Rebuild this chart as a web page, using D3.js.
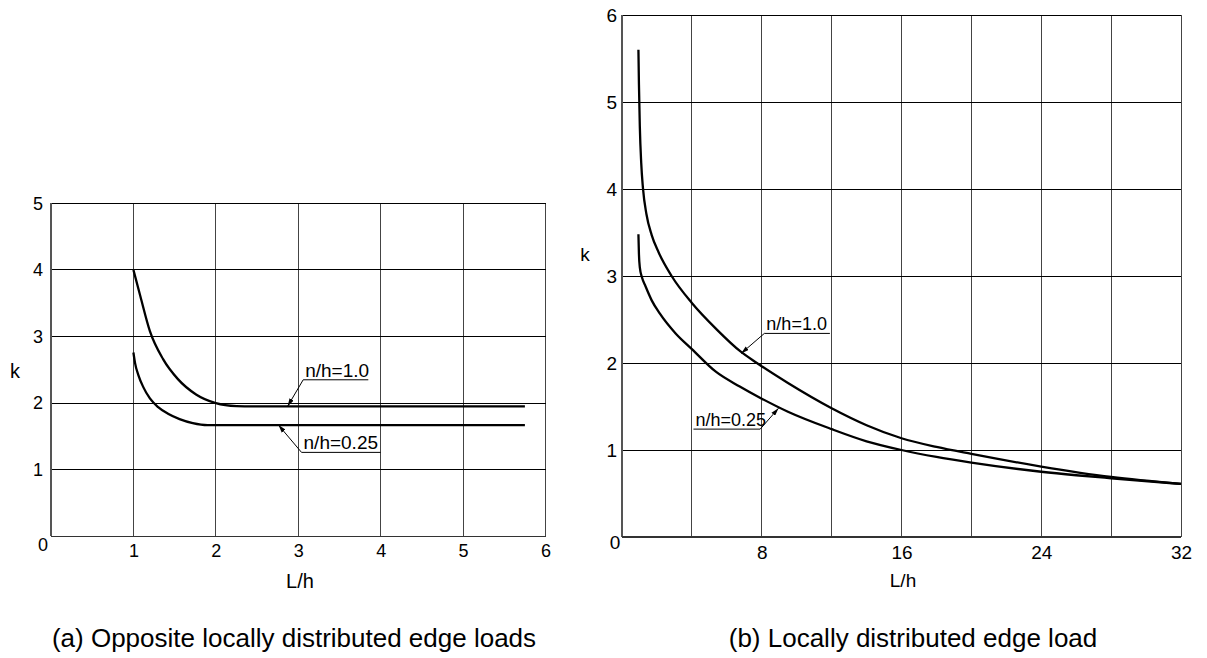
<!DOCTYPE html>
<html>
<head>
<meta charset="utf-8">
<script src="https://cdn.jsdelivr.net/npm/d3@7"></script>
<style>
  html, body { margin: 0; padding: 0; background: #fff; }
  svg { display: block; }
  text { font-family: "Liberation Sans", Arial, Helvetica, sans-serif; fill: #000; }
</style>
</head>
<body>
<svg id="chart" width="1207" height="658"></svg>
<script>
// ---------- Data ----------
// Panel (a): Opposite locally distributed edge loads
const aXTicks = [1, 2, 3, 4, 5, 6];
const aYTicks = [1, 2, 3, 4, 5];
const aSeries10 = [[1.0,4.0],[1.085,3.6],[1.2,3.08],[1.36,2.66],[1.54,2.36],[1.76,2.13],[2.0,2.0],[2.25,1.955],[2.45,1.95],[5.75,1.95]];
const aSeries025 = [[1.0,2.76],[1.02,2.6],[1.06,2.42],[1.12,2.24],[1.2,2.07],[1.3,1.94],[1.42,1.84],[1.56,1.76],[1.72,1.70],[1.9,1.67],[5.75,1.67]];
// Panel (b): Locally distributed edge load
const bXTicks = [8, 16, 24, 32];
const bXGrid = [4, 8, 12, 16, 20, 24, 28, 32];
const bYTicks = [1, 2, 3, 4, 5, 6];
const bSeries10 = [[0.94,5.6],[0.97,5.2],[1.02,4.72],[1.1,4.3],[1.2,4.01],[1.4,3.71],[1.7,3.47],[2.1,3.27],[2.84,3.0],[4.0,2.69],[5.4,2.39],[6.8,2.13],[7.72,2.0],[9.5,1.77],[12,1.48],[14,1.285],[16,1.135],[18,1.035],[20,0.955],[24,0.81],[28,0.69],[32,0.61]];
const bSeries025 = [[0.94,3.48],[0.97,3.25],[1.02,3.1],[1.15,2.98],[1.35,2.88],[1.7,2.72],[2.16,2.57],[3.07,2.34],[4.0,2.16],[5.37,1.9],[6.74,1.73],[8,1.59],[9.5,1.44],[12,1.24],[14,1.1],[16,1.0],[18,0.92],[20,0.855],[24,0.75],[26,0.71],[28,0.675],[32,0.61]];
// Annotations: label, tip [x,y], elbow [x,y], other end of underline x
const aNotes = [
  {label: "n/h=1.0", tip: [2.87,1.95], elbow: [3.06,2.35], end: 3.85},
  {label: "n/h=0.25", tip: [2.76,1.67], elbow: [3.04,1.26], end: 4.0}
];
const bNotes = [
  {label: "n/h=1.0", tip: [6.82,2.11], elbow: [8.15,2.34], end: 11.9},
  {label: "n/h=0.25", tip: [8.96,1.48], elbow: [7.91,1.24], end: 4.09}
];
const captions = ["(a) Opposite locally distributed edge loads", "(b) Locally distributed edge load"];

// ---------- Drawing ----------
const svg = d3.select("#chart");
const defs = svg.append("defs");
defs.append("marker").attr("id","arr").attr("viewBox","0 0 10 6")
  .attr("refX",10).attr("refY",3).attr("markerWidth",8).attr("markerHeight",5)
  .attr("markerUnits","userSpaceOnUse")
  .attr("orient","auto")
  .append("path").attr("d","M0,0 L10,3 L0,6 Z").attr("fill","#000");

const CAP_FS = 26;

function panel(cfg) {
  const g = svg.append("g");
  const x = d3.scaleLinear().domain(cfg.xd).range(cfg.xr);
  const y = d3.scaleLinear().domain(cfg.yd).range(cfg.yr);
  // vertical grid
  g.selectAll(".vg").data(cfg.xGrid).join("line")
    .attr("x1", d => x(d)).attr("x2", d => x(d))
    .attr("y1", y(cfg.yd[0])).attr("y2", y(cfg.yd[1]))
    .attr("stroke", "#444").attr("stroke-width", 1).attr("shape-rendering","crispEdges");
  // horizontal grid
  g.selectAll(".hg").data(cfg.yGrid).join("line")
    .attr("x1", x(cfg.xd[0])).attr("x2", x(cfg.xd[1]))
    .attr("y1", d => y(d)).attr("y2", d => y(d))
    .attr("stroke", "#000").attr("stroke-width", 1).attr("shape-rendering","crispEdges");
  // axes lines (left + bottom)
  g.append("line").attr("x1", x(cfg.xd[0])).attr("x2", x(cfg.xd[0]))
    .attr("y1", y(cfg.yd[0])).attr("y2", y(cfg.yd[1]))
    .attr("stroke", "#555").attr("stroke-width", 1.2).attr("shape-rendering","crispEdges");
  g.append("line").attr("x1", x(cfg.xd[0])).attr("x2", x(cfg.xd[1]))
    .attr("y1", y(cfg.yd[0])).attr("y2", y(cfg.yd[0]))
    .attr("stroke", "#333").attr("stroke-width", 1.2).attr("shape-rendering","crispEdges");

  // y axis labels via d3 axis
  const ya = d3.axisLeft(y).tickValues(cfg.yTicks).tickSize(0).tickPadding(cfg.yPad).tickFormat(d3.format("d"));
  g.append("g").attr("transform", `translate(${x(cfg.xd[0])},0)`).call(ya)
    .call(s => s.select(".domain").remove())
    .selectAll("text").attr("font-size", cfg.tickFs).style("font-family", '"Liberation Sans", Arial, sans-serif');
  const xa = d3.axisBottom(x).tickValues(cfg.xTicks).tickSize(0).tickPadding(cfg.xPad).tickFormat(d3.format("d"));
  g.append("g").attr("transform", `translate(0,${y(cfg.yd[0])})`).call(xa)
    .call(s => s.select(".domain").remove())
    .selectAll("text").attr("font-size", cfg.tickFs).style("font-family", '"Liberation Sans", Arial, sans-serif');
  // origin "0"
  g.append("text").attr("x", x(cfg.xd[0]) - cfg.zeroDx).attr("y", y(cfg.yd[0]) + cfg.zeroDy)
    .attr("text-anchor", "middle").attr("font-size", cfg.tickFs).text("0");
  // axis titles
  g.append("text").attr("x", cfg.xTitle[0]).attr("y", cfg.xTitle[1]).attr("text-anchor","middle")
    .attr("font-size", cfg.titleFs).text("L/h");
  g.append("text").attr("x", cfg.yTitle[0]).attr("y", cfg.yTitle[1]).attr("text-anchor","middle")
    .attr("font-size", cfg.titleFs).text("k");

  // curves
  const line = d3.line().x(d => x(d[0])).y(d => y(d[1])).curve(d3.curveMonotoneX);
  cfg.series.forEach(s => {
    g.append("path").attr("d", line(s)).attr("fill","none").attr("stroke","#000")
      .attr("stroke-width", 2.3).attr("stroke-linejoin","round");
  });

  // annotations
  cfg.notes.forEach(n => {
    g.append("line").attr("x1", x(n.elbow[0])).attr("y1", y(n.elbow[1]))
      .attr("x2", x(n.tip[0])).attr("y2", y(n.tip[1]))
      .attr("stroke","#000").attr("stroke-width",1).attr("marker-end","url(#arr)");
    g.append("line").attr("x1", x(n.elbow[0])).attr("x2", x(n.end))
      .attr("y1", y(n.elbow[1])).attr("y2", y(n.elbow[1]))
      .attr("stroke","#000").attr("stroke-width",1);
    const left = Math.min(x(n.elbow[0]), x(n.end));
    g.append("text").attr("x", left + 2).attr("y", y(n.elbow[1]) - 3)
      .attr("font-size", cfg.noteFs).text(n.label);
  });

  // caption
  g.append("text").attr("x", cfg.caption[0]).attr("y", cfg.caption[1]).attr("text-anchor","middle")
    .attr("font-size", CAP_FS).text(cfg.captionText);
}

panel({
  xd: [0, 6], xr: [51, 545.5], yd: [0, 5], yr: [536.3, 203.3],
  xGrid: [1,2,3,4,5,6], yGrid: [1,2,3,4,5],
  xTicks: aXTicks, yTicks: aYTicks, yPad: 8, xPad: 8,
  tickFs: 18, noteFs: 19, titleFs: 20,
  zeroDx: 8, zeroDy: 15,
  xTitle: [300, 588], yTitle: [15, 378],
  series: [aSeries10, aSeries025], notes: aNotes,
  caption: [294, 647], captionText: captions[0]
});
panel({
  xd: [0, 32], xr: [622, 1181], yd: [0, 6], yr: [537, 15],
  xGrid: bXGrid, yGrid: [1,2,3,4,5,6],
  xTicks: bXTicks, yTicks: bYTicks, yPad: 5, xPad: 9,
  tickFs: 19, noteFs: 18, titleFs: 19,
  zeroDx: 7, zeroDy: 12,
  xTitle: [903, 587], yTitle: [585, 261],
  series: [bSeries10, bSeries025], notes: bNotes,
  caption: [913, 647], captionText: captions[1]
});
</script>
</body>
</html>
